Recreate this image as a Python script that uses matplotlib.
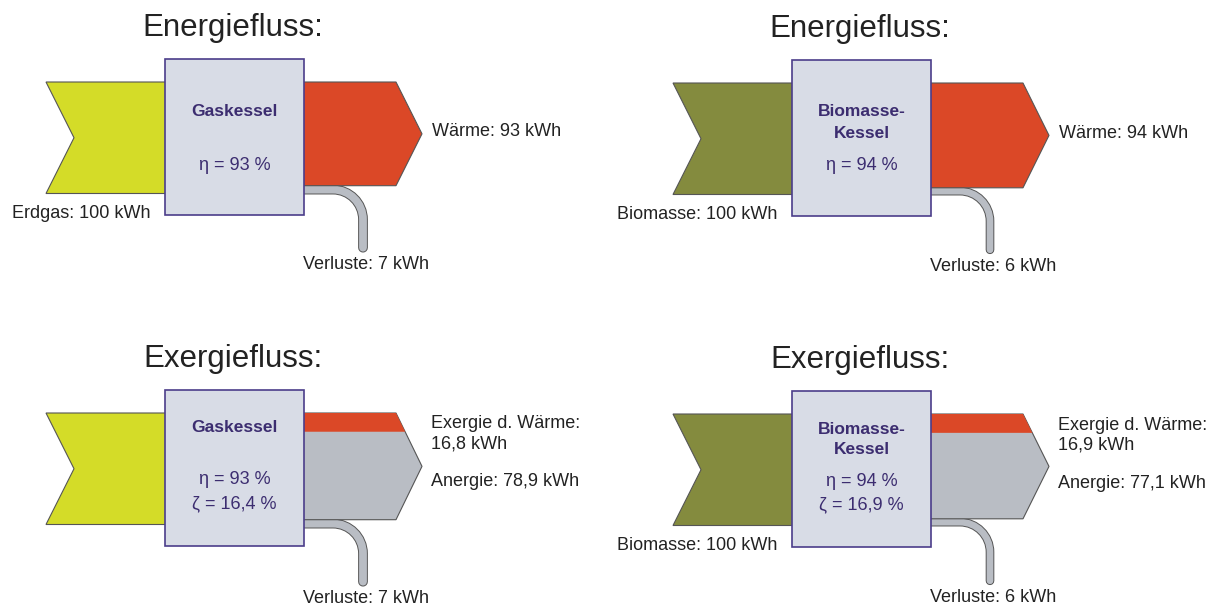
"""
Energy / exergy flow diagrams for a gas boiler and a biomass boiler.
"""
import numpy as np
import matplotlib
matplotlib.use('Agg')
import matplotlib.pyplot as plt
from matplotlib.patches import Polygon, Rectangle, PathPatch
from matplotlib.path import Path

plt.rcParams['font.family'] = ['Liberation Sans', 'DejaVu Sans']

# --- data -------------------------------------------------------------
titles = ['Energiefluss:', 'Energiefluss:', 'Exergiefluss:', 'Exergiefluss:']
boiler_names = [['Gaskessel'], ['Biomasse-', 'Kessel'],
                ['Gaskessel'], ['Biomasse-', 'Kessel']]
fuel_labels = ['Erdgas', 'Biomasse', None, 'Biomasse']
input_kwh = [100, 100, 100, 100]
heat_kwh = [93, 94, 93, 94]
loss_kwh = [7, 6, 7, 6]
exergy_kwh = [None, None, 16.8, 16.9]
anergy_kwh = [None, None, 78.9, 77.1]
eta_pct = [93, 94, 93, 94]
zeta_pct = [None, None, 16.4, 16.9]
fuel_colors = ['#D4DC28', '#848B3E', '#D4DC28', '#848B3E']

# layout (pixels): left edge and top of input arrow per panel
panel_x = [46, 673, 46, 673]
panel_y = [82, 83, 413, 414]

PX_PER_KWH = 1.115
RED = '#DB4827'
GREY = '#B9BDC4'
BOX_FILL = '#D8DCE6'
BOX_EDGE = '#4B3D8A'
TXT_PURPLE = '#3C2D70'
TXT = '#222222'
EDGE = '#555555'

fig = plt.figure(figsize=(12.17, 6.13), dpi=100)
ax = fig.add_axes([0, 0, 1, 1])
ax.set_xlim(0, 1217)
ax.set_ylim(613, 0)
ax.axis('off')


def fmt(v):
    return f'{v:g}'.replace('.', ',')


def draw_panel(i):
    x0, y0 = panel_x[i], panel_y[i]
    exergy = exergy_kwh[i] is not None

    in_h = input_kwh[i] * PX_PER_KWH
    if exergy:
        out_h = (exergy_kwh[i] + anergy_kwh[i]) * PX_PER_KWH
    else:
        out_h = heat_kwh[i] * PX_PER_KWH
    loss_h = loss_kwh[i] * PX_PER_KWH

    bx0 = x0 + 119
    bx1 = bx0 + 139
    btop = y0 - 23
    bh = 156

    # input chevron arrow
    notch = 28
    pts = [(x0, y0), (bx0 + 5, y0), (bx0 + 5, y0 + in_h), (x0, y0 + in_h),
           (x0 + notch, y0 + in_h / 2)]
    ax.add_patch(Polygon(pts, closed=True, fc=fuel_colors[i], ec=EDGE, lw=0.8, zorder=2))

    # output arrow
    sh = bx1 + 92
    tip = bx1 + 118
    top, bot = y0, y0 + out_h
    mid = (top + bot) / 2
    pts = [(bx1 - 5, top), (sh, top), (tip, mid), (sh, bot), (bx1 - 5, bot)]
    ax.add_patch(Polygon(pts, closed=True, fc=GREY if exergy else RED,
                         ec=EDGE, lw=0.8, zorder=2))
    if exergy:
        ry = top + exergy_kwh[i] * PX_PER_KWH
        rx = sh + (tip - sh) * (ry - top) / (mid - top)
        ax.add_patch(Polygon([(bx1 - 5, top), (sh, top), (rx, ry), (bx1 - 5, ry)],
                             closed=True, fc=RED, ec='none', zorder=3))

    # loss pipe
    yc = bot + loss_h / 2
    xv = bx1 + 59
    r = 30
    yend = bot + 62
    k = 0.5523 * r
    verts = [(bx1 - 10, yc), (xv - r, yc),
             (xv - r + k, yc), (xv, yc + r - k), (xv, yc + r),
             (xv, yend)]
    codes = [Path.MOVETO, Path.LINETO, Path.CURVE4, Path.CURVE4, Path.CURVE4, Path.LINETO]
    path = Path(verts, codes)
    lw_pt = loss_h * 72 / 100
    ax.add_patch(PathPatch(path, fill=False, ec=EDGE, lw=lw_pt + 1.4,
                           capstyle='round', joinstyle='round', zorder=1))
    ax.add_patch(PathPatch(path, fill=False, ec=GREY, lw=lw_pt,
                           capstyle='round', joinstyle='round', zorder=1.5))

    # boiler box
    ax.add_patch(Rectangle((bx0, btop), bx1 - bx0, bh, fc=BOX_FILL, ec=BOX_EDGE,
                           lw=1.2, zorder=4))
    cx = (bx0 + bx1) / 2
    names = boiler_names[i]
    if exergy:
        name_y = btop + (38 if len(names) > 1 else 37)
        eta_y, zeta_y = btop + 90, btop + 114
    else:
        name_y = btop + 52
        eta_y = btop + 106
    for j, line in enumerate(names):
        ax.text(cx, name_y + 21 * j, line, ha='center', va='center', fontsize=12.5,
                fontweight='bold', color=TXT_PURPLE, zorder=5)
    ax.text(cx, eta_y, f'η = {eta_pct[i]} %', ha='center', va='center',
            fontsize=13, color=TXT_PURPLE, zorder=5)
    if exergy:
        ax.text(cx, zeta_y, f'ζ = {fmt(zeta_pct[i])} %', ha='center', va='center',
                fontsize=13, color=TXT_PURPLE, zorder=5)

    # labels
    ax.text(x0 + 187, y0 - 46, titles[i], ha='center', va='baseline',
            fontsize=22.5, color=TXT)
    if fuel_labels[i]:
        ax.text(x0 + 104, y0 + in_h + 20, f'{fuel_labels[i]}: {input_kwh[i]} kWh',
                ha='right', va='center', fontsize=13, color=TXT)
    if exergy:
        ax.text(tip + 9, top + 11, 'Exergie d. Wärme:',
                ha='left', va='center', fontsize=13, color=TXT)
        ax.text(tip + 9, top + 31, f'{fmt(exergy_kwh[i])} kWh',
                ha='left', va='center', fontsize=13, color=TXT)
        ax.text(tip + 9, top + 69, f'Anergie: {fmt(anergy_kwh[i])} kWh',
                ha='left', va='center', fontsize=13, color=TXT)
    else:
        ax.text(tip + 10, mid - 2, f'Wärme: {heat_kwh[i]} kWh',
                ha='left', va='center', fontsize=13, color=TXT)
    ax.text(xv + 3, yend + 17, f'Verluste: {loss_kwh[i]} kWh',
            ha='center', va='center', fontsize=13, color=TXT)


for i in range(4):
    draw_panel(i)

fig.savefig('out.png', dpi=100)
